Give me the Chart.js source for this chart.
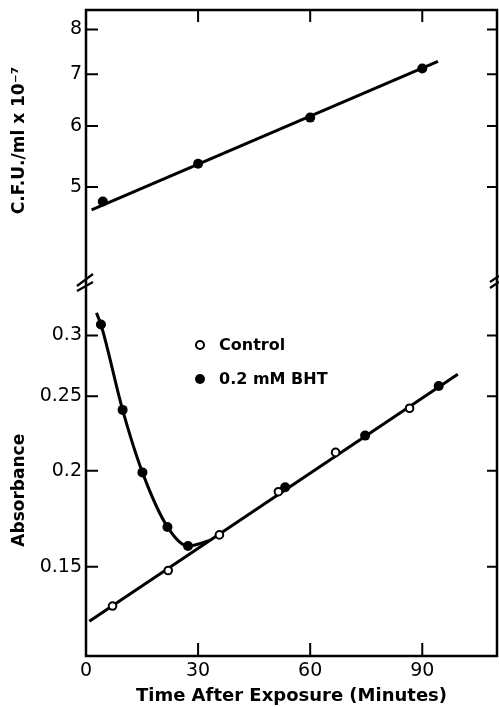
<!DOCTYPE html>
<html><head><meta charset="utf-8">
<script src="https://cdn.jsdelivr.net/npm/chart.js@4"></script>
<style>html,body{margin:0;padding:0;background:#fff}</style>
</head><body>
<canvas id="c" width="499" height="707" style="display:block;width:499px;height:707px"></canvas>
<script>
// ---- data ----
const timeTicks = [0, 30, 60, 90];
const cfuTicks = [5, 6, 7, 8];
const absTicks = [0.15, 0.2, 0.25, 0.3];

const cfuTime = [4.5, 30, 60, 90];
const cfuValues = [4.79, 5.36, 6.15, 7.12];
const cfuFitTime = [1.5, 94.2];
const cfuFitValues = [4.67, 7.27];

const controlTime = [7.1, 22, 35.7, 51.5, 66.8, 86.6];
const controlValues = [0.1333, 0.1483, 0.165, 0.1878, 0.2113, 0.2412];
const bhtTime = [4, 9.8, 15.1, 21.8, 27.3, 53.3, 74.7, 94.4];
const bhtValues = [0.310, 0.240, 0.199, 0.169, 0.1596, 0.1903, 0.2222, 0.2578];
const lineTime = [0.9, 99.5];
const lineValues = [0.1274, 0.267];
const curveTime = [2.8, 4, 9.8, 15.1, 21.8, 27.3, 33];
const curveValues = [0.321, 0.310, 0.240, 0.199, 0.169, 0.1596, 0.1622];

const legendLabels = ['Control', '0.2 mM BHT'];

const pts = (xs, ys) => xs.map((x, i) => ({x: x, y: ys[i]}));

const FONT = 'DejaVu Sans';

const framePlugin = {
  id: 'frame',
  afterDraw(chart) {
    const {ctx, chartArea: a, scales} = chart;
    const x = scales.x, yt = scales.yTop, yb = scales.yBot;
    ctx.save();
    ctx.strokeStyle = '#000';
    ctx.lineWidth = 2.5;
    ctx.strokeRect(a.left, a.top, a.right - a.left, a.bottom - a.top);
    ctx.lineWidth = 2;
    ctx.beginPath();
    timeTicks.slice(1).forEach(t => {
      const px = x.getPixelForValue(t);
      ctx.moveTo(px, a.bottom); ctx.lineTo(px, a.bottom - 13);
      ctx.moveTo(px, a.top); ctx.lineTo(px, a.top + 12);
    });
    [[yt, cfuTicks], [yb, absTicks]].forEach(([s, tk]) => {
      tk.forEach(v => {
        const py = s.getPixelForValue(v);
        ctx.moveTo(a.left, py); ctx.lineTo(a.left + 12, py);
        ctx.moveTo(a.right, py); ctx.lineTo(a.right - 10, py);
      });
    });
    ctx.stroke();
    // axis break marks
    const by = yt.bottom;
    ctx.lineWidth = 2.2;
    ctx.beginPath();
    ctx.moveTo(a.left - 9, by + 3); ctx.lineTo(a.left + 7, by - 9);
    ctx.moveTo(a.left - 9, by + 8); ctx.lineTo(a.left + 7, by - 1);
    ctx.moveTo(a.right - 7, by - 1); ctx.lineTo(a.right + 2, by - 7);
    ctx.moveTo(a.right - 7, by + 5); ctx.lineTo(a.right + 2, by - 1);
    ctx.stroke();
    // legend
    const lx = a.left + 114, ly1 = yb.top + 62, ly2 = yb.top + 96;
    ctx.beginPath();
    ctx.lineWidth = 2;
    ctx.fillStyle = '#fff';
    ctx.arc(lx, ly1, 4, 0, Math.PI * 2);
    ctx.fill(); ctx.stroke();
    ctx.beginPath();
    ctx.fillStyle = '#000';
    ctx.arc(lx, ly2, 5, 0, Math.PI * 2);
    ctx.fill();
    ctx.font = 'bold 16px "' + FONT + '"';
    ctx.textBaseline = 'middle';
    ctx.textAlign = 'left';
    ctx.fillText(legendLabels[0], lx + 19, ly1 + 1);
    ctx.fillText(legendLabels[1], lx + 19, ly2 + 1);
    ctx.restore();
  }
};

const noPad = s => { s.paddingTop = 0; s.paddingBottom = 0; s.paddingLeft = 0; s.paddingRight = 0; };

new Chart(document.getElementById('c'), {
  type: 'line',
  data: {
    datasets: [
      {label: 'C.F.U.', data: pts(cfuTime, cfuValues), yAxisID: 'yTop', showLine: false,
       pointRadius: 5, pointBackgroundColor: '#000', pointBorderWidth: 0, order: 1},
      {label: 'Control', data: pts(controlTime, controlValues), yAxisID: 'yBot', showLine: false,
       pointRadius: 3.8, pointBackgroundColor: '#fff', pointBorderColor: '#000', pointBorderWidth: 2, order: 1},
      {label: '0.2 mM BHT', data: pts(bhtTime, bhtValues), yAxisID: 'yBot', showLine: false,
       pointRadius: 5, pointBackgroundColor: '#000', pointBorderWidth: 0, order: 1},
      {label: 'C.F.U. fit', data: pts(cfuFitTime, cfuFitValues), yAxisID: 'yTop',
       borderColor: '#000', borderWidth: 3, pointRadius: 0, order: 2},
      {label: 'Absorbance fit', data: pts(lineTime, lineValues), yAxisID: 'yBot',
       borderColor: '#000', borderWidth: 3, pointRadius: 0, order: 2},
      {label: 'BHT curve', data: pts(curveTime, curveValues), yAxisID: 'yBot',
       borderColor: '#000', borderWidth: 3, pointRadius: 0, cubicInterpolationMode: 'monotone', order: 2}
    ]
  },
  options: {
    responsive: false,
    animation: false,
    events: [],
    layout: {autoPadding: false, padding: {top: 10, right: 2, left: 0, bottom: 0}},
    plugins: {legend: {display: false}, tooltip: {enabled: false}},
    scales: {
      x: {
        type: 'linear', min: 0, max: 110,
        afterBuildTicks(s) { s.ticks = timeTicks.map(v => ({value: v})); },
        ticks: {font: {family: FONT, size: 19}, color: '#000', padding: 4, maxRotation: 0, autoSkip: false,
                callback: v => String(v)},
        grid: {display: false, drawTicks: false},
        border: {display: false},
        title: {display: true, text: 'Time After Exposure (Minutes)', color: '#000',
                font: {family: FONT, size: 18, weight: 'bold'}, padding: {top: 0, bottom: 0}},
        afterFit(s) { s.height = 51; noPad(s); }
      },
      yBot: {
        type: 'logarithmic', position: 'left', stack: 'panels', stackWeight: 373, weight: 0,
        min: 0.11477, max: 0.3511,
        afterBuildTicks(s) { s.ticks = absTicks.map(v => ({value: v})); },
        ticks: {font: {family: FONT, size: 19}, color: '#000', padding: 4, autoSkip: false,
                callback: v => String(v)},
        grid: {display: false, drawTicks: false},
        border: {display: false},
        title: {display: true, text: 'Absorbance       ', color: '#000',
                font: {family: FONT, size: 17, weight: 'bold'}, padding: {top: 9, bottom: 0}},
        afterFit(s) { s.width = 86; noPad(s); }
      },
      yTop: {
        type: 'logarithmic', position: 'left', stack: 'panels', stackWeight: 273, weight: 1,
        min: 3.756, max: 8.476,
        afterBuildTicks(s) { s.ticks = cfuTicks.map(v => ({value: v})); },
        ticks: {font: {family: FONT, size: 19}, color: '#000', padding: 4, autoSkip: false,
                callback: v => String(v)},
        grid: {display: false, drawTicks: false},
        border: {display: false},
        title: {display: true, text: '  C.F.U./ml x 10\u207B\u2077', color: '#000',
                font: {family: FONT, size: 17, weight: 'bold'}, padding: {top: 9, bottom: 0}},
        afterFit(s) { s.width = 86; noPad(s); }
      }
    }
  },
  plugins: [framePlugin]
});
</script>
</body></html>
